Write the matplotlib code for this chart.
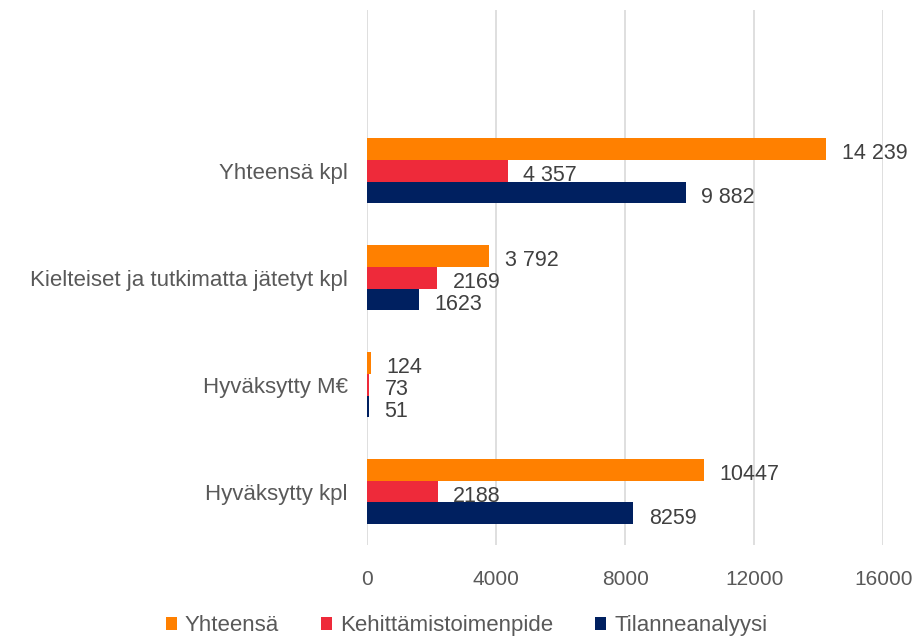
import matplotlib
matplotlib.use("Agg")
import matplotlib.pyplot as plt
import numpy as np

categories = ["Hyväksytty kpl", "Hyväksytty M€", "Kielteiset ja tutkimatta jätetyt kpl", "Yhteensä kpl", ""]
series = ["Yhteensä", "Kehittämistoimenpide", "Tilanneanalyysi"]
yhteensa = [10447, 124, 3792, 14239, 0]
kehittamis = [2188, 73, 2169, 4357, 0]
tilanne = [8259, 51, 1623, 9882, 0]
labels_y = ["10447", "124", "3 792", "14 239", ""]
labels_k = ["2188", "73", "2169", "4 357", ""]
labels_t = ["8259", "51", "1623", "9 882", ""]
colors = ["#FF8000", "#EE2A3A", "#002060"]

plt.rcParams["font.family"] = ["Liberation Sans", "DejaVu Sans"]
grey = "#595959"

fig = plt.figure(figsize=(9.22, 6.39), dpi=100)
ax = fig.add_axes([0.398, 0.147, 0.56, 0.837])

y = np.arange(len(categories))
h = 0.204
offs = [h, 0, -h]
data = [yhteensa, kehittamis, tilanne]
labs = [labels_y, labels_k, labels_t]
for vals, lab, c, off, name in zip(data, labs, colors, offs, series):
    bars = ax.barh(y + off, vals, height=h, color=c, label=name, zorder=3)
    for b, v, t in zip(bars, vals, lab):
        if t:
            ax.text(v + 480, b.get_y() + b.get_height() / 2 - 0.045, t,
                    va="center", ha="left", fontsize=15.5, color="#404040")

ax.set_xlim(0, 16000)
ax.set_ylim(-0.5, 4.5)
ax.set_xticks([0, 4000, 8000, 12000, 16000])
ax.set_yticks(y[:4])
ax.set_yticklabels(categories[:4], fontsize=16)
ax.tick_params(axis="both", length=0, labelcolor=grey)
ax.tick_params(axis="x", labelsize=15, pad=18)
ax.tick_params(axis="y", pad=14)
ax.grid(axis="x", color="#D9D9D9", linewidth=1.2, zorder=0)
for s in ax.spines.values():
    s.set_visible(False)

fig.legend(loc="center", bbox_to_anchor=(0.506, 0.021), ncol=3,
           frameon=False, fontsize=16, labelcolor=grey, handlelength=0.5,
           handleheight=0.5, handletextpad=0.35, columnspacing=1.9,
           borderaxespad=0, borderpad=0)

fig.savefig("out.png", dpi=100)
